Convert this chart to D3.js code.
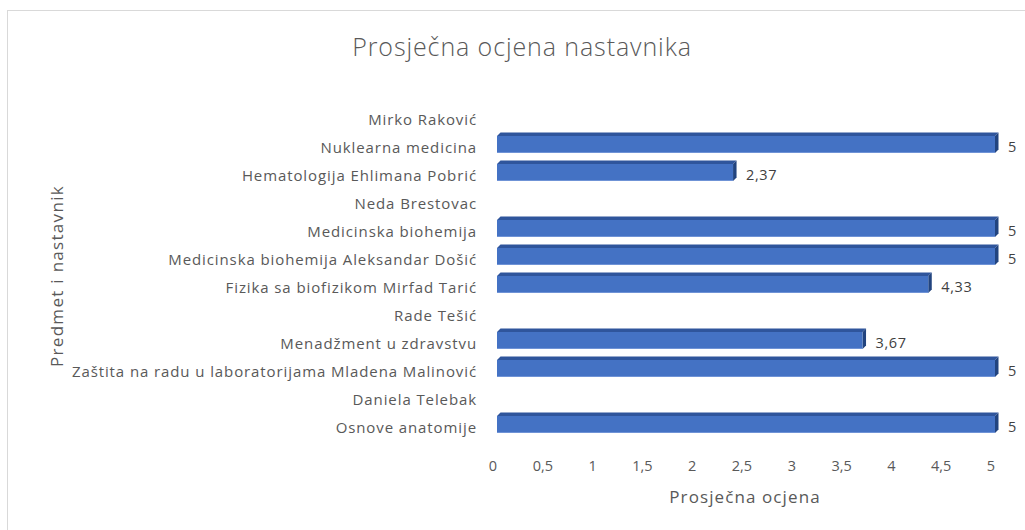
<!DOCTYPE html>
<html>
<head>
<meta charset="utf-8">
<script src="https://cdn.jsdelivr.net/npm/d3@7"></script>
<style>
  body { margin: 0; background: #fff; }
  svg { display: block; font-family: "Open Sans", sans-serif; }
</style>
</head>
<body>
<div id="chart"></div>
<script>
// categories top to bottom, null = no bar (teacher rows)
const categories = [
  "Mirko Raković",
  "Nuklearna medicina",
  "Hematologija Ehlimana Pobrić",
  "Neda Brestovac",
  "Medicinska biohemija",
  "Medicinska biohemija Aleksandar Došić",
  "Fizika sa biofizikom Mirfad Tarić",
  "Rade Tešić",
  "Menadžment u zdravstvu",
  "Zaštita na radu u laboratorijama Mladena Malinović",
  "Daniela Telebak",
  "Osnove anatomije"
];
const values = [null, 5, 2.37, null, 5, 5, 4.33, null, 3.67, 5, null, 5];
const xTicks = [0, 0.5, 1, 1.5, 2, 2.5, 3, 3.5, 4, 4.5, 5];

const width = 1025, height = 530;
const fmt = d => String(d).replace(".", ",");

const svg = d3.select("#chart").append("svg")
  .attr("width", width).attr("height", height);

// chart frame (cut off on right / bottom like the screenshot)
svg.append("rect")
  .attr("x", 7.5).attr("y", 10.5)
  .attr("width", 1040).attr("height", 540)
  .attr("fill", "none").attr("stroke", "#d9d9d9");

const x = d3.scaleLinear().domain([0, 5]).range([497, 995]);
const y = d3.scaleBand().domain(categories).range([106, 442]);

// title
svg.append("text")
  .attr("x", 522).attr("y", 56)
  .attr("text-anchor", "middle")
  .attr("fill", "#595959")
  .style("font-size", "25px")
  .style("font-weight", 300)
  .style("letter-spacing", "0.9px")
  .text("Prosječna ocjena nastavnika");

// category labels
svg.append("g").selectAll("text")
  .data(categories).join("text")
  .attr("x", 477)
  .attr("y", d => y(d) + y.bandwidth() / 2)
  .attr("dy", "0.36em")
  .attr("text-anchor", "end")
  .attr("fill", "#595959")
  .style("font-size", "15px")
  .style("letter-spacing", "0.9px")
  .text(d => d);

// x tick labels
svg.append("g").selectAll("text")
  .data(xTicks).join("text")
  .attr("x", d => x(d) - 4)
  .attr("y", 471)
  .attr("text-anchor", "middle")
  .attr("fill", "#595959")
  .style("font-size", "14.5px")
  .text(fmt);

// axis titles
svg.append("text")
  .attr("x", 745).attr("y", 503)
  .attr("text-anchor", "middle")
  .attr("fill", "#595959")
  .style("font-size", "17px")
  .style("letter-spacing", "1.1px")
  .text("Prosječna ocjena");

svg.append("text")
  .attr("transform", "translate(63,276) rotate(-90)")
  .attr("text-anchor", "middle")
  .attr("fill", "#595959")
  .style("font-size", "17px")
  .style("letter-spacing", "1.3px")
  .text("Predmet i nastavnik");

// bars with a small 3D bevel (top + right face)
const depth = 3.5, barH = 17;
const rows = categories.map((c, i) => ({ c, v: values[i] })).filter(d => d.v != null);

const bars = svg.append("g").selectAll("g")
  .data(rows).join("g")
  .attr("transform", d => `translate(0,${y(d.c) + y.bandwidth() / 2 - 12})`);

bars.append("path")
  .attr("fill", "#2f559c")
  .attr("d", d => `M${x(0)},0 L${x(0) + depth},${-depth} L${x(d.v) + depth},${-depth} L${x(d.v)},0 Z`);

bars.append("path")
  .attr("fill", "#22447f")
  .attr("d", d => `M${x(d.v)},0 L${x(d.v) + depth},${-depth} L${x(d.v) + depth},${barH - depth} L${x(d.v)},${barH} Z`);

bars.append("rect")
  .attr("x", x(0))
  .attr("y", 0)
  .attr("width", d => x(d.v) - x(0))
  .attr("height", barH)
  .attr("fill", "#4472c4");

bars.append("line")
  .attr("x1", x(0)).attr("x2", d => x(d.v))
  .attr("y1", barH - 0.5).attr("y2", barH - 0.5)
  .attr("stroke", "#6f93d6").attr("stroke-width", 1);

// value labels
bars.append("text")
  .attr("x", d => x(d.v) + 13)
  .attr("y", 11)
  .attr("dy", "0.36em")
  .attr("fill", "#404040")
  .style("font-size", "14.5px")
  .style("letter-spacing", "0.6px")
  .text(d => fmt(d.v));
</script>
</body>
</html>
